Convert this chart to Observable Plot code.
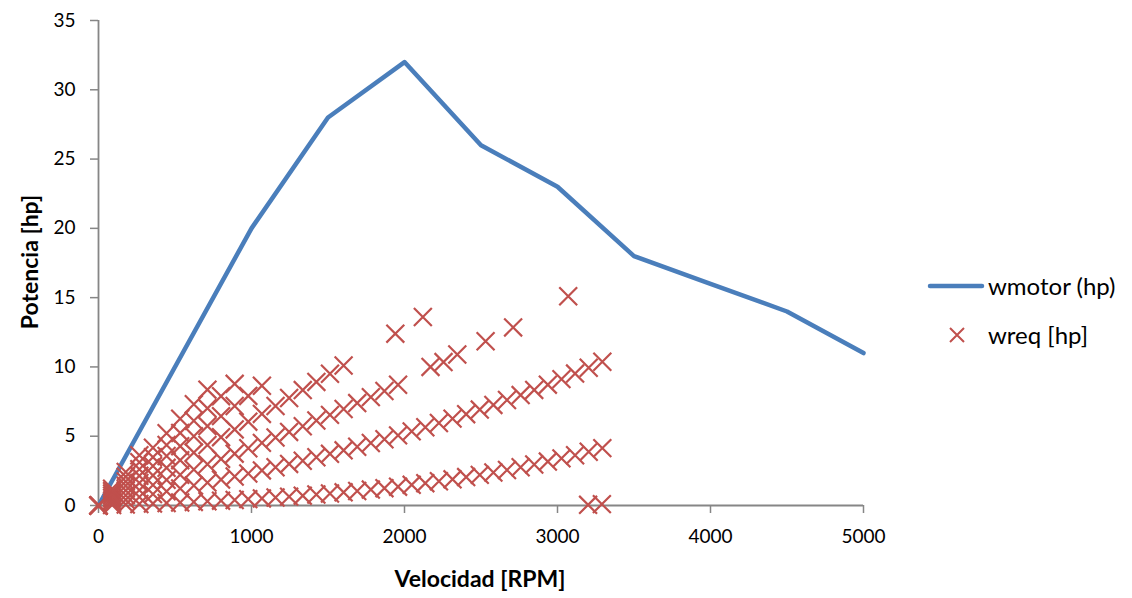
<!DOCTYPE html>
<html>
<head>
<meta charset="utf-8">
<script src="https://cdn.jsdelivr.net/npm/d3@7"></script>
<script src="https://cdn.jsdelivr.net/npm/@observablehq/plot@0.6"></script>
<style>
  body { margin: 0; background: #fff; }
  #wrap { position: relative; width: 1132px; height: 598px; font-family: Lato, "Open Sans", sans-serif; }
  .ttl { position: absolute; font-weight: bold; font-size: 23px; color: #000; white-space: nowrap; line-height: 1; }
  #legend { position: absolute; left: 925px; top: 272px; font-size: 24px; color: #000; line-height: 1; }
  #legend .row { display: flex; align-items: center; height: 28px; }
</style>
</head>
<body>
<div id="wrap"></div>
<script>
// Motor power curve
const motorRpm = [0, 1000, 1500, 2000, 2500, 3000, 3500, 4000, 4500, 5000];
const motorHp  = [0, 20, 28, 32, 26, 23, 18, 16, 14, 11];

// Required power: shared rpm grid and one list of values per family
const rpmGrid = [0, 89, 178, 267, 356, 445, 534, 623, 712, 801, 890, 979, 1068, 1157, 1246, 1335, 1424, 1513, 1602, 1691, 1780, 1869, 1958, 2047, 2136, 2225, 2314, 2403, 2492, 2581, 2670, 2759, 2848, 2937, 3026, 3115, 3204, 3293];
const wreqA = [0, 0.04, 0.07, 0.11, 0.14, 0.18, 0.22, 0.26, 0.31, 0.35, 0.40, 0.46, 0.51, 0.58, 0.64, 0.71, 0.79, 0.87, 0.95, 1.05, 1.15, 1.25, 1.36, 1.49, 1.61, 1.75, 1.89, 2.05, 2.21, 2.38, 2.56, 2.76, 2.96, 3.17, 3.40, 3.63, 3.88, 4.14];
const wreqB = [0, 0.20, 0.41, 0.61, 0.82, 1.02, 1.23, 1.44, 1.65, 1.87, 2.09, 2.31, 2.53, 2.76, 3.00, 3.23, 3.48, 3.73, 3.98, 4.24, 4.51, 4.78, 5.06, 5.35, 5.65, 5.95, 6.27, 6.59, 6.92, 7.26, 7.61, 7.97, 8.34, 8.72, 9.12, 9.52, 9.94, 10.37];
const wreqC = [0, 0.37, 0.74, 1.11, 1.48, 1.85, 2.22, 2.60, 2.98, 3.36, 3.74, 4.13, 4.52, 4.91, 5.31, 5.72, 6.13, 6.54, 6.96, 7.39, 7.82, 8.26, 8.71];
const wreqD = [0, 0.54, 1.09, 1.63, 2.17, 2.72, 3.27, 3.82, 4.37, 4.93, 5.49, 6.05, 6.61, 7.18, 7.76, 8.33, 8.92, 9.51, 10.10];
const wreqE = [0, 0.71, 1.42, 2.14, 2.85, 3.57, 4.28, 5.00, 5.73, 6.45, 7.18, 7.91, 8.64];
const wreqF = [0, 0.87, 1.74, 2.62, 3.49, 4.37, 5.24, 6.12, 7.01, 7.89, 8.78];
const wreqG = [0, 1.04, 2.08, 3.12, 4.17, 5.21, 6.26, 7.31, 8.36];
const wreqH = [0, 1.21, 2.42, 3.63];
// isolated points
const extraRpm = [2170, 2255, 2345, 2530, 2710, 3070, 1940, 2120, 3200, 3290];
const extraHp  = [10.0, 10.35, 10.9, 11.85, 12.85, 15.1, 12.4, 13.6, 0.05, 0.1];

const xTicks = [0, 1000, 2000, 3000, 4000, 5000];
const yTicks = [0, 5, 10, 15, 20, 25, 30, 35];

const blue = "#4A7EBB";
const red = "#C0504D";
const axisGray = "#868686";

const motor = motorRpm.map((r, i) => ({rpm: r, hp: motorHp[i]}));
const req = [];
for (const fam of [wreqA, wreqB, wreqC, wreqD, wreqE, wreqF, wreqG, wreqH]) {
  fam.forEach((v, i) => req.push({rpm: rpmGrid[i], hp: v}));
}
extraRpm.forEach((r, i) => req.push({rpm: r, hp: extraHp[i]}));

const chart = Plot.plot({
  width: 1132,
  height: 598,
  marginLeft: 98,
  marginRight: 269,
  marginTop: 20,
  marginBottom: 93,
  style: {fontFamily: "Lato, 'Open Sans', sans-serif", fontSize: "19px", color: "#000", background: "#fff", overflow: "visible"},
  x: {domain: [0, 5000]},
  y: {domain: [0, 35]},
  marks: [
    Plot.axisX({ticks: xTicks, tickFormat: d => String(d), tickSize: 8, tickPadding: 16, stroke: axisGray, strokeWidth: 1.5, label: null, fill: "#000", fontSize: 19}),
    Plot.axisY({ticks: yTicks, tickFormat: d => String(d), tickSize: 8, tickPadding: 15, stroke: axisGray, strokeWidth: 1.5, label: null, fill: "#000", fontSize: 19}),
    Plot.ruleY([0], {stroke: axisGray, strokeWidth: 1.8}),
    Plot.ruleX([0], {stroke: axisGray, strokeWidth: 1.8}),
    Plot.line(motor, {x: "rpm", y: "hp", stroke: blue, strokeWidth: 4.5, strokeLinejoin: "round", strokeLinecap: "round"}),
    Plot.dot(req, {x: "rpm", y: "hp", symbol: "times", r: 8.2, stroke: red, strokeWidth: 2.2})
  ]
});

const wrap = document.getElementById("wrap");
wrap.appendChild(chart);

const xt = document.createElement("div");
xt.className = "ttl";
xt.textContent = "Velocidad [RPM]";
xt.style.left = "480px"; xt.style.top = "567px"; xt.style.transform = "translateX(-50%)";
wrap.appendChild(xt);

const yt = document.createElement("div");
yt.className = "ttl";
yt.textContent = "Potencia [hp]";
yt.style.left = "29px"; yt.style.top = "262px"; yt.style.transform = "translate(-50%,-50%) rotate(-90deg)";
wrap.appendChild(yt);

const lg = document.createElement("div");
lg.id = "legend";
lg.innerHTML =
  '<div class="row"><svg width="63" height="12"><line x1="5" y1="6" x2="57" y2="6" stroke="' + blue + '" stroke-width="4.5" stroke-linecap="round"/></svg><span>wmotor (hp)</span></div>' +
  '<div class="row" style="margin-top:21px"><svg width="63" height="20"><path d="M25,3 L39,17 M39,3 L25,17" stroke="' + red + '" stroke-width="2"/></svg><span>wreq [hp]</span></div>';
wrap.appendChild(lg);
</script>
</body>
</html>
